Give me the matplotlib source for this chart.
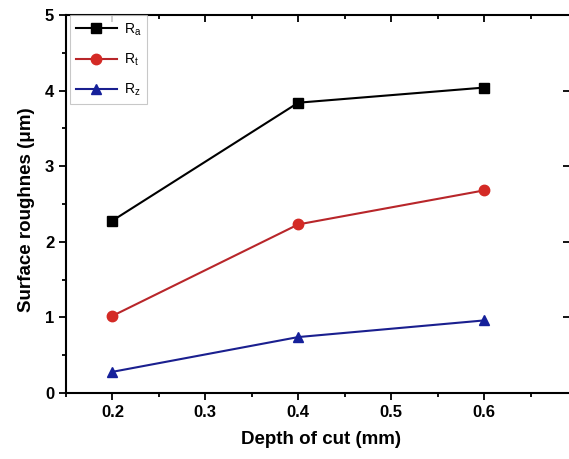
import matplotlib
matplotlib.use("Agg")
import matplotlib.pyplot as plt
from matplotlib.ticker import MultipleLocator

depth = [0.2, 0.4, 0.6]
ra = [2.28, 3.84, 4.04]
rt = [1.02, 2.23, 2.68]
rz = [0.28, 0.74, 0.96]

plt.rcParams['font.family'] = ['Liberation Sans', 'DejaVu Sans']

fig = plt.figure(figsize=(5.69, 4.59), dpi=100)
ax = fig.add_axes([66/569, 1-393/459, 511/569, 378/459])

ax.plot(depth, ra, '-s', color='black', lw=1.5, ms=6.5, label='$\\mathregular{R_a}$')
ax.plot(depth, rt, '-o', color='#b8262a', mfc='#d42a25', mec='#d42a25', lw=1.5, ms=7.5, label='$\\mathregular{R_t}$')
ax.plot(depth, rz, '-^', color='#1a1f8f', mfc='#15209a', mec='#15209a', lw=1.5, ms=7.5, label='$\\mathregular{R_z}$')

ax.set_xlim(0.15, 0.70)
ax.set_ylim(0, 5)
ax.xaxis.set_major_locator(MultipleLocator(0.1))
ax.xaxis.set_minor_locator(MultipleLocator(0.05))
ax.yaxis.set_major_locator(MultipleLocator(1))
ax.yaxis.set_minor_locator(MultipleLocator(0.5))
ax.set_xticks([0.2, 0.3, 0.4, 0.5, 0.6])
ax.set_xticklabels(['0.2', '0.3', '0.4', '0.5', '0.6'])

ax.tick_params(which='both', direction='out', width=1.3, labelsize=12)
ax.tick_params(which='major', length=5)
ax.tick_params(which='minor', length=3)
ax.tick_params(which='both', top=True, right=True)
for lab in ax.get_xticklabels() + ax.get_yticklabels():
    lab.set_fontweight('bold')
for t in ax.xaxis.get_major_ticks() + ax.xaxis.get_minor_ticks():
    t.tick2line.set_marker(3)
for t in ax.yaxis.get_major_ticks():
    t.tick2line.set_marker(0)
    t.tick2line.set_markersize(10)
for t in ax.yaxis.get_minor_ticks():
    t.tick2line.set_marker(0)
    t.tick2line.set_markersize(6)

for s in ax.spines.values():
    s.set_linewidth(1.5)

ax.set_xlabel('Depth of cut (mm)', fontsize=13.5, fontweight='bold', labelpad=8)
ax.set_ylabel('Surface roughnes (\u03bcm)', fontsize=13.5, fontweight='bold')
ax.yaxis.set_label_coords(-0.061, 0.484)

leg = ax.legend(loc='upper left', fontsize=10, frameon=True, fancybox=False,
                edgecolor='#bbbbbb', borderaxespad=0.0, handlelength=2.9,
                labelspacing=1.0, borderpad=0.45, handletextpad=0.5,
                bbox_to_anchor=(0.008, 1.0))
leg.get_frame().set_linewidth(0.8)

fig.savefig('out.png', dpi=100)
